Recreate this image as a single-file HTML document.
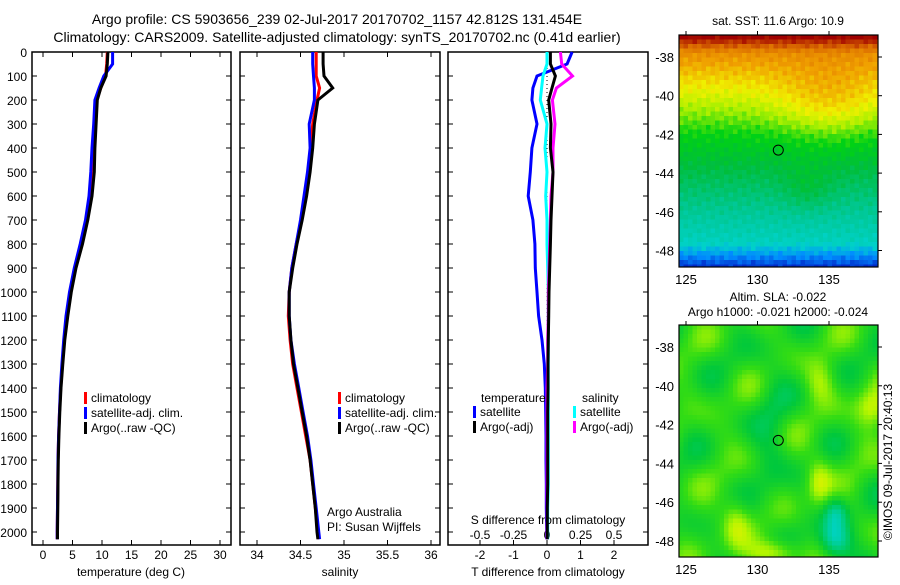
<!DOCTYPE html>
<html><head><meta charset="utf-8">
<style>
body{margin:0;background:#fff;}
svg text{font-family:"Liberation Sans",sans-serif;fill:#000;}
</style></head>
<body>
<svg id="fig" width="900" height="580" viewBox="0 0 900 580" xmlns="http://www.w3.org/2000/svg">
<g font-size="14">
<text x="337" y="24" text-anchor="middle">Argo profile: CS 5903656_239 02-Jul-2017 20170702_1157 42.812S 131.454E</text>
<text x="337" y="42" text-anchor="middle">Climatology: CARS2009. Satellite-adjusted climatology: synTS_20170702.nc (0.41d earlier)</text>
</g>
<g id="panels"></g>
<g id="maps"></g>
</svg>
<script>
// ---- profile data ----
const depthT=[0,50,100,150,200,300,400,500,600,700,800,900,1000,1100,1200,1300,1400,1500,1600,1700,1800,1900,2000,2030];
const tempArgo=[11.0,10.9,10.7,9.8,9.2,9.0,8.8,8.7,8.3,7.6,6.7,5.6,4.8,4.2,3.7,3.35,3.05,2.85,2.7,2.6,2.55,2.5,2.45,2.45];
const tempClim=[10.9,10.8,10.6,9.8,9.1,8.9,8.7,8.5,8.1,7.4,6.5,5.5,4.7,4.1,3.6,3.3,3.0,2.8,2.65,2.55,2.5,2.45,2.4,2.4];
const tempSat=[11.8,11.8,10.3,9.5,8.8,8.6,8.3,8.1,7.8,7.2,6.3,5.3,4.5,3.9,3.5,3.2,2.95,2.8,2.65,2.55,2.5,2.45,2.4,2.4];
const salArgo=[34.76,34.76,34.77,34.87,34.70,34.66,34.64,34.61,34.57,34.52,34.46,34.41,34.37,34.37,34.39,34.42,34.47,34.52,34.57,34.61,34.64,34.67,34.69,34.70];
const salClim=[34.68,34.68,34.68,34.72,34.69,34.64,34.62,34.59,34.55,34.51,34.45,34.40,34.37,34.36,34.38,34.41,34.46,34.51,34.56,34.61,34.64,34.67,34.70,34.71];
const salSat=[34.64,34.64,34.65,34.66,34.66,34.60,34.61,34.58,34.54,34.50,34.45,34.40,34.37,34.37,34.39,34.43,34.48,34.53,34.58,34.62,34.65,34.68,34.71,34.72];
const dTsat=[0.75,0.6,-0.3,-0.42,-0.45,-0.3,-0.45,-0.5,-0.56,-0.42,-0.36,-0.35,-0.3,-0.25,-0.15,-0.08,-0.05,-0.04,-0.03,-0.03,-0.02,-0.02,-0.01,-0.01];
const dTargo=[0.1,0.1,0.25,0.15,0.05,0.12,0.1,0.18,0.15,0.12,0.1,0.08,0.06,0.05,0.04,0.03,0.03,0.02,0.02,0.02,0.02,0.01,0.01,0.01];
const dSsat=[0.0,0.0,-0.03,-0.04,-0.05,0.0,-0.015,0.0,-0.01,0.0,0.0,0.005,0.01,0.01,0.01,0.01,0.01,0.01,0.01,0.01,0.01,0.005,0.005,0.005];
const dSargo=[0.1,0.11,0.19,0.07,0.04,0.06,0.045,0.045,0.03,0.025,0.02,0.015,0.01,0.01,0.005,0.005,0.0,0.0,0.0,0.0,0.0,0.0,0.0,0.0];
const depthTicks=[0,100,200,300,400,500,600,700,800,900,1000,1100,1200,1300,1400,1500,1600,1700,1800,1900,2000];
const tempTicks=[0,5,10,15,20,25,30];
const salTicks=[34,34.5,35,35.5,36];
const tdTicks=[-2,-1,0,1,2];
const sdTicks=[-0.5,-0.25,0,0.25,0.5];
const sdLabels=["-0.5","-0.25","0","0.25","0.5"];
const argoLon=131.454, argoLat=-42.812;

const NS="http://www.w3.org/2000/svg";
function mk(tag,attrs,parent){const e=document.createElementNS(NS,tag);for(const k in attrs)e.setAttribute(k,attrs[k]);parent.appendChild(e);return e;}
const yD=d=>52+d*0.24;
const P=document.getElementById('panels');

function panel(x0,x1,name){
  const g=mk('g',{},P);
  
  
  const r=mk('rect',{x:x0,y:52,width:x1-x0,height:493,fill:'none',stroke:'#000','stroke-width':1.5},g);
  
  
  depthTicks.forEach(d=>{
    mk('line',{x1:x0,x2:x0+5,y1:yD(d),y2:yD(d),stroke:'#000'},g);
    mk('line',{x1:x1-5,x2:x1,y1:yD(d),y2:yD(d),stroke:'#000'},g);
  });
  return g;
}
function xTicks(g,ticks,labels,sx,yLab,top){
  ticks.forEach((v,i)=>{
    const x=sx(v);
    mk('line',{x1:x,x2:x,y1:545,y2:540,stroke:'#000'},g);
    if(top) mk('line',{x1:x,x2:x,y1:52,y2:57,stroke:'#000'},g);
    const t=mk('text',{x:x,y:yLab,'text-anchor':'middle','font-size':12},g);
    t.textContent=labels[i];
    
    
  });
}
function line(g,xs,sx,color,w,name){
  const pts=xs.map((v,i)=>sx(v).toFixed(1)+','+yD(depthT[i]).toFixed(1)).join(' ');
  const p=mk('polyline',{points:pts,fill:'none',stroke:color,'stroke-width':w},g);
  
  
}
function legend(g,x,y,items){
  items.forEach((it,i)=>{
    const yy=y+i*15;
    mk('rect',{x:x,y:yy-10,width:3,height:12,fill:it[1]},g);
    const t=mk('text',{x:x+7,y:yy,'font-size':12},g);
    t.textContent=it[0];
    
    
  });
}
depthTicks.forEach(d=>{
  const t=mk('text',{x:27,y:yD(d)+5,'text-anchor':'end','font-size':12},P);
  t.textContent=d;
  
  
});
// Panel 1 temperature
const sT=v=>43+v*5.9;
const g1=panel(32,231,'temperature-panel');
xTicks(g1,tempTicks,tempTicks.map(String),sT,559,true);
line(g1,tempClim,sT,'#f00',3,'temp-climatology-line');
line(g1,tempSat,sT,'#00f',3,'temp-satellite-line');
line(g1,tempArgo,sT,'#000',3,'temp-argo-line');
let t=mk('text',{x:131,y:576,'text-anchor':'middle','font-size':12},g1);t.textContent='temperature (deg C)';

legend(g1,84,402,[['climatology','#f00'],['satellite-adj. clim.','#00f'],['Argo(..raw -QC)','#000']]);
// Panel 2 salinity
const sS=v=>257+(v-34)*87;
const g2=panel(240,440,'salinity-panel');
xTicks(g2,salTicks,salTicks.map(String),sS,559,true);
line(g2,salClim,sS,'#f00',3,'sal-climatology-line');
line(g2,salSat,sS,'#00f',3,'sal-satellite-line');
line(g2,salArgo,sS,'#000',3,'sal-argo-line');
t=mk('text',{x:340,y:576,'text-anchor':'middle','font-size':12},g2);t.textContent='salinity';

legend(g2,338,402,[['climatology','#f00'],['satellite-adj. clim.','#00f'],['Argo(..raw -QC)','#000']]);
t=mk('text',{x:327,y:516,'font-size':12},g2);t.textContent='Argo Australia';

t=mk('text',{x:327,y:531,'font-size':12},g2);t.textContent='PI: Susan Wijffels';

// Panel 3 differences
const sTD=v=>547+v*33.5;
const sSD=v=>547+v*134;
const g3=panel(448,648,'difference-panel');
xTicks(g3,tdTicks,tdTicks.map(String),sTD,559,false);
sdTicks.forEach((v,i)=>{
  const tt=mk('text',{x:sSD(v),y:539,'text-anchor':'middle','font-size':12},g3);
  tt.textContent=sdLabels[i];
  
  
});
mk('line',{x1:547,x2:547,y1:52,y2:545,stroke:'#000','stroke-dasharray':'1,3'},g3);
line(g3,dTsat,sTD,'#00f',3,'tdiff-satellite-line');
line(g3,dSsat,sSD,'#0ff',3,'sdiff-satellite-line');
line(g3,dSargo,sSD,'#f0f',3,'sdiff-argo-line');
line(g3,dTargo,sTD,'#000',3,'tdiff-argo-line');
t=mk('text',{x:548,y:524,'text-anchor':'middle','font-size':12},g3);t.textContent='S difference from climatology';

t=mk('text',{x:548,y:576,'text-anchor':'middle','font-size':12},g3);t.textContent='T difference from climatology';

t=mk('text',{x:481,y:402,'font-size':12},g3);t.textContent='temperature';

t=mk('text',{x:582,y:402,'font-size':12},g3);t.textContent='salinity';

legend(g3,473,416,[['satellite','#00f'],['Argo(-adj)','#000']]);
legend(g3,573,416,[['satellite','#0ff'],['Argo(-adj)','#f0f']]);

// ---- maps ----
const M=document.getElementById('maps');
const lonTicks=[125,130,135];
const latTicks=[-38,-40,-42,-44,-46,-48];
function lerpCol(stops,v){
  v=Math.max(0,Math.min(1,v));
  for(let i=1;i<stops.length;i++){if(v<=stops[i][0]){const a=stops[i-1],b=stops[i];const f=(v-a[0])/(b[0]-a[0]);
    return 'rgb('+[1,2,3].map(k=>Math.round(a[k]+(b[k]-a[k])*f)).join(',')+')';}}
  const l=stops[stops.length-1];return 'rgb('+l[1]+','+l[2]+','+l[3]+')';
}
const sstStops=[[0,0,40,200],[0.1,0,140,255],[0.2,0,210,200],[0.3,0,200,150],[0.42,0,190,60],[0.5,0,210,20],[0.6,170,240,0],[0.68,240,240,0],[0.78,240,160,0],[0.88,220,110,0],[1,160,0,0]];
const slaStops=[[0,0,210,190],[0.3,0,200,60],[0.5,50,220,20],[0.7,180,245,0],[0.85,240,240,0],[1,240,190,0]];
function drawMap(name,x0,y0,x1,y1,lat0Y,latStep,fn,stops,title1,title2,t1y){
  const g=mk('g',{},M);
  
  
  const lonX=l=>686+(l-125)*14.3;
  const latY=l=>lat0Y+(-38-l)*latStep;
  const cw=4.5,ch=4.5;
  for(let y=y0;y<y1;y+=ch){for(let x=x0;x<x1;x+=cw){
    const lon=125+(x+cw/2-686)/14.3, lat=-38-(y+ch/2-lat0Y)/latStep;
    mk('rect',{x:x,y:y,width:Math.min(cw,x1-x)+0.3,height:Math.min(ch,y1-y)+0.3,fill:lerpCol(stops,fn(lon,lat))},g);
  }}
  const fr=mk('rect',{x:x0,y:y0,width:x1-x0,height:y1-y0,fill:'none',stroke:'#000','stroke-width':1.2},g);
  
  const c=mk('circle',{cx:lonX(argoLon),cy:latY(argoLat),r:5,fill:'none',stroke:'#000'},g);
  
  lonTicks.forEach(l=>{
    mk('line',{x1:lonX(l),x2:lonX(l),y1:y0-4,y2:y0,stroke:'#000'},g);
    const tt=mk('text',{x:lonX(l),y:y1+17,'text-anchor':'middle','font-size':13},g);tt.textContent=l;
    
  });
  latTicks.forEach(l=>{
    mk('line',{x1:x1,x2:x1+4,y1:latY(l),y2:latY(l),stroke:'#000'},g);
    const tt=mk('text',{x:674,y:latY(l)+5,'text-anchor':'end','font-size':13},g);tt.textContent=l;
    
  });
  let tt=mk('text',{x:778,y:t1y,'text-anchor':'middle','font-size':12},g);tt.textContent=title1;
  
  if(title2){tt=mk('text',{x:778,y:t1y+15,'text-anchor':'middle','font-size':12},g);tt.textContent=title2;
  }
}
const gs=(lon,lat,cl,ct,sl,st)=>Math.exp(-((lon-cl)*(lon-cl))/(2*sl*sl)-((lat-ct)*(lat-ct))/(2*st*st));
const sst=(lon,lat)=>{
  let v;
  if(lat>-42) v=0.5+(lat+42)*0.075; else v=0.5+(lat+42)*0.05;
  if(lat>-37.8) v+=(lat+37.8)*0.15;
  if(lat>-45) v+=0.1*gs(lon,lat,135,-40.5,2.5,1.3);
  v+=0.06*gs(lon,lat,133.5,-44.8,1.2,0.8);
  if(lat<-47.6) v-=(-47.6-lat)*0.12;
  v+=0.03*Math.sin(lon*7.3+lat*5.1)*Math.cos(lon*3.7-lat*9.2);
  return v;
};
const sla=(lon,lat)=>{
  let v=0.45+0.12*Math.sin(lon*1.3+lat*0.4)*Math.cos(lat*1.1)+0.08*Math.sin(lon*0.7-lat*1.7);
  v-=0.12*gs(lon,lat,131,-43,0.9,3);
  v-=0.45*gs(lon,lat,135.4,-48,0.8,0.7);
  v-=0.3*gs(lon,lat,135.5,-46.5,0.6,0.6);
  v+=0.35*gs(lon,lat,131.3,-48.6,1.2,0.5);
  v+=0.3*gs(lon,lat,138,-41.2,0.8,0.7);
  v+=0.3*gs(lon,lat,134.3,-45,0.6,0.9);
  v+=0.25*gs(lon,lat,128.5,-47,0.7,1);
  v+=0.2*gs(lon,lat,134.4,-39.8,0.7,0.8);
  return v;
};
drawMap('sst-map',679,35,878,267,57,19.35,sst,sstStops,'sat. SST: 11.6 Argo: 10.9',null,25);
drawMap('sla-map',679,325,878,557,347,19.4,sla,slaStops,'Altim. SLA: -0.022','Argo h1000: -0.021 h2000: -0.024',301);
const cr=mk('text',{x:892,y:462,'text-anchor':'middle','font-size':12,transform:'rotate(-90 892 462)'},M);
cr.textContent='©IMOS 09-Jul-2017 20:40:13';


</script>
</body></html>
